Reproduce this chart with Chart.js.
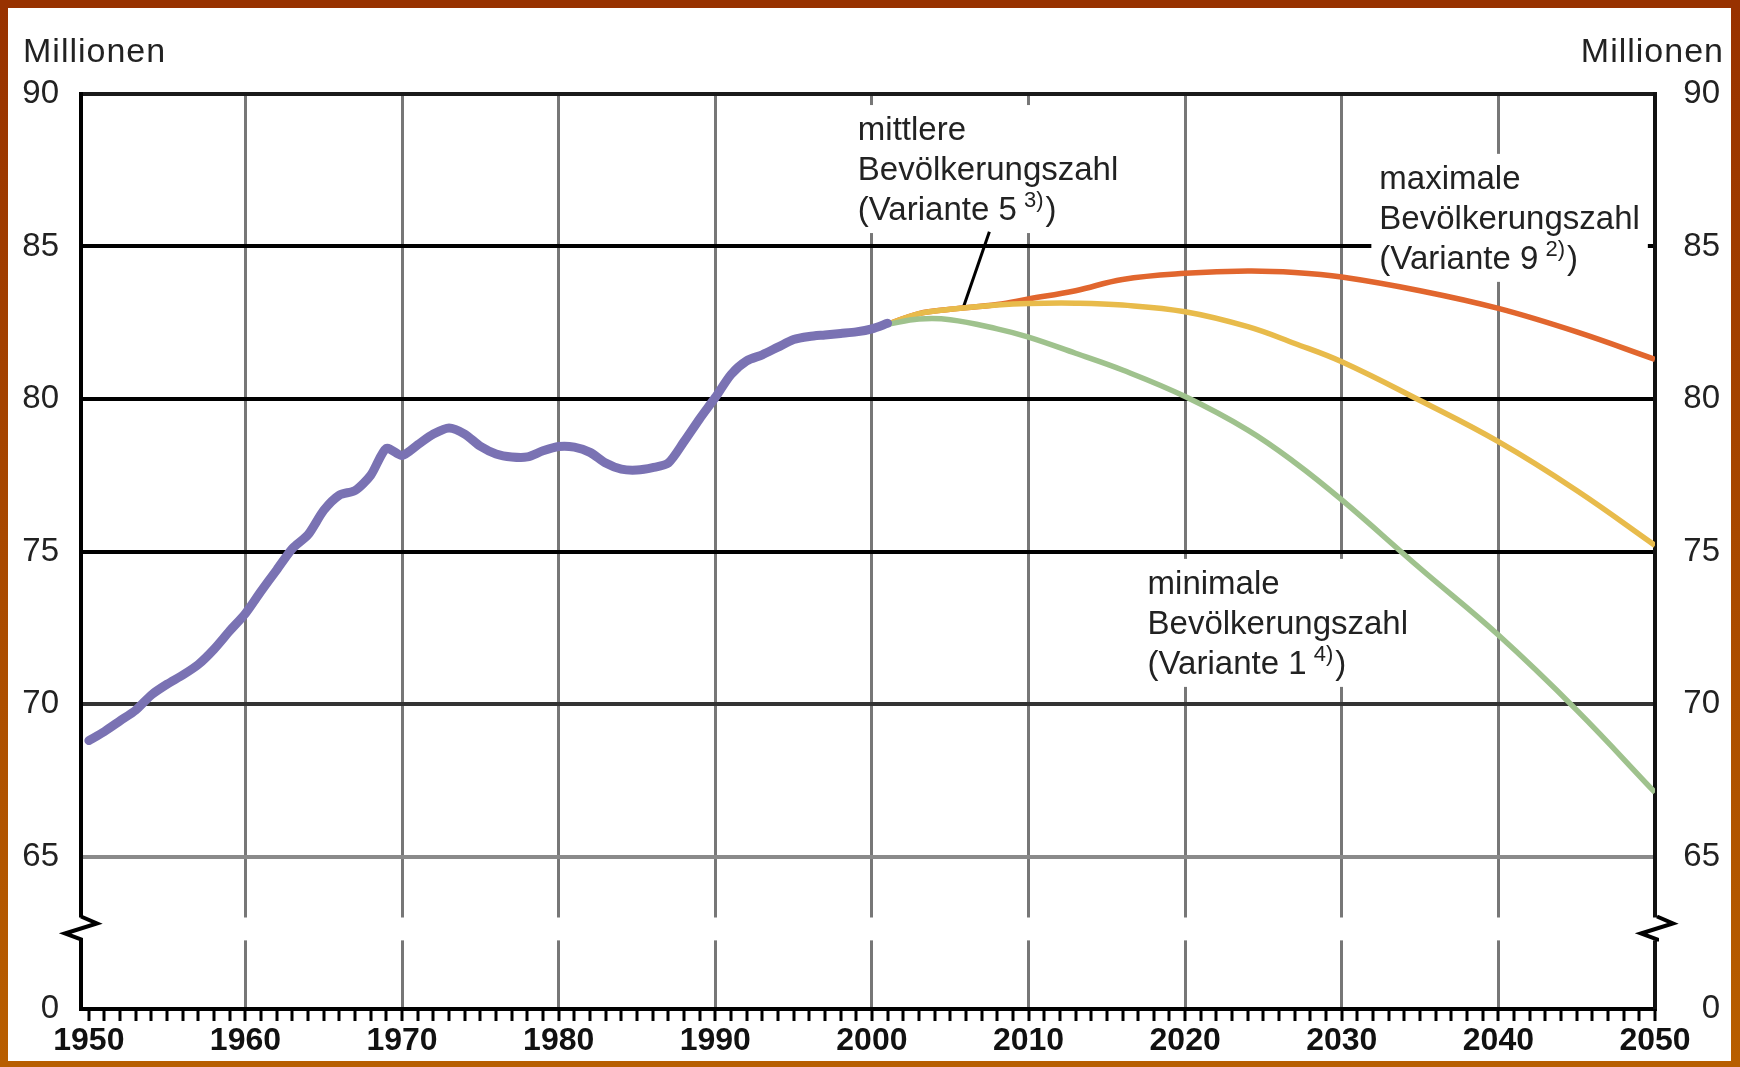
<!DOCTYPE html>
<html>
<head>
<meta charset="utf-8">
<script src="https://cdn.jsdelivr.net/npm/chart.js@4.4.0/dist/chart.umd.min.js"></script>
<style>
  html, body { margin: 0; padding: 0; background: #fff; }
  #wrap { position: relative; width: 1740px; height: 1067px; }
  #frame { position: absolute; left: 0; top: 0; width: 1740px; height: 1067px; box-sizing: border-box;
    border-style: solid; border-width: 8px 9px 6px 8px;
    border-image: linear-gradient(to bottom, #983200, #b85e00) 1; pointer-events: none; }
</style>
</head>
<body>
<div id="wrap">
  <canvas id="populationGraph" width="1740" height="1067"></canvas>
  <div id="frame"></div>
</div>
<script>
// Bevölkerung Deutschland 1950-2001 und Vorausberechnung bis 2050 (Millionen)
var histYears = [1950, 1951, 1952, 1953, 1954, 1955, 1956, 1957, 1958, 1959,
                 1960, 1961, 1962, 1963, 1964, 1965, 1966, 1967, 1968, 1969,
                 1970, 1971, 1972, 1973, 1974, 1975, 1976, 1977, 1978, 1979,
                 1980, 1981, 1982, 1983, 1984, 1985, 1986, 1987, 1988, 1989,
                 1990, 1991, 1992, 1993, 1994, 1995, 1996, 1997, 1998, 1999,
                 2000, 2001];
var histValues = [68.8, 69.1, 69.45, 69.8, 70.3, 70.65, 70.95, 71.3, 71.8, 72.4,
                  72.97, 73.7, 74.4, 75.1, 75.55, 76.35, 76.85, 77.0, 77.5, 78.38,
                  78.15, 78.5, 78.85, 79.05, 78.85, 78.45, 78.2, 78.1, 78.1, 78.3,
                  78.44, 78.42, 78.25, 77.9, 77.7, 77.67, 77.75, 77.9, 78.6, 79.35,
                  80.05, 80.8, 81.25, 81.45, 81.7, 81.95, 82.05, 82.1, 82.15, 82.2,
                  82.3, 82.48];

var projYears  = [2001, 2003, 2005, 2008, 2010, 2013, 2016, 2020, 2024, 2027, 2030, 2035, 2040, 2045, 2050];
var minValues  = [82.45, 82.62, 82.6, 82.3, 82.03, 81.5, 80.95, 80.08, 78.98, 77.92, 76.69, 74.45, 72.26, 69.8, 67.1];
var midValues  = [82.45, 82.8, 82.94, 83.08, 83.13, 83.14, 83.08, 82.86, 82.37, 81.82, 81.22, 79.95, 78.6, 77.0, 75.2];
var maxValues  = [82.45, 82.8, 82.94, 83.1, 83.28, 83.55, 83.92, 84.12, 84.2, 84.15, 84.0, 83.55, 82.97, 82.2, 81.3];

var xTickYears  = [1950, 1960, 1970, 1980, 1990, 2000, 2010, 2020, 2030, 2040, 2050];
var yTickValues = [60, 65, 70, 75, 80, 85, 90];
var yTickLabels = ['0', '65', '70', '75', '80', '85', '90'];

// Beschriftungen an den Kurven (Anker in Jahr / Millionen)
var curveLabels = [
    { lines: ['mittlere', 'Bevölkerungszahl', '(Variante 5 '], note: '3)', at: [1999.1, 88.49] },
    { lines: ['maximale', 'Bevölkerungszahl', '(Variante 9 '], note: '2)', at: [2032.4, 86.89] },
    { lines: ['minimale', 'Bevölkerungszahl', '(Variante 1 '], note: '4)', at: [2017.6, 73.61] }
];
var leaderLine = [[2007.5, 85.48], [2005.8, 82.95]];

var hLineColors = {60: 'rgba(0,0,0,0)', 65: '#8a8a8a', 70: '#333', 75: '#000', 80: '#000', 85: '#000', 90: '#1a1a1a'};
var textFont = '"Liberation Sans", Arial, sans-serif';
Chart.defaults.font.family = textFont;

function toPoints(xs, vs) {
    return xs.map(function (x, i) { return {x: x, y: vs[i]}; });
}

var chartExtras = {
    id: 'chartExtras',
    beforeDatasetsDraw: function (chart) {
        var ctx = chart.ctx, xs = chart.scales.x, ys = chart.scales.y;
        ctx.save();
        curveLabels.forEach(function (lab) {
            var left = xs.getPixelForValue(lab.at[0]);
            var base = ys.getPixelForValue(lab.at[1]);
            ctx.font = '33px ' + textFont;
            var w = 0;
            lab.lines.forEach(function (t) { w = Math.max(w, ctx.measureText(t).width); });
            var last = base + 40 * (lab.lines.length - 1);
            ctx.fillStyle = '#fff';
            ctx.fillRect(left - 8, base - 35, w + 16, last - base + 48);

            ctx.fillStyle = '#222';
            ctx.textAlign = 'left';
            ctx.textBaseline = 'alphabetic';
            lab.lines.forEach(function (t, i) { ctx.fillText(t, left, base + 40 * i); });
            var tx = left + ctx.measureText(lab.lines[lab.lines.length - 1]).width - 2;
            ctx.font = '22px ' + textFont;
            ctx.fillText(lab.note, tx, last - 13);
            tx += ctx.measureText(lab.note).width + 2;
            ctx.font = '33px ' + textFont;
            ctx.fillText(')', tx, last);
        });
        // Hinweislinie zur mittleren Variante
        ctx.strokeStyle = '#000';
        ctx.lineWidth = 3;
        ctx.beginPath();
        ctx.moveTo(xs.getPixelForValue(leaderLine[0][0]), ys.getPixelForValue(leaderLine[0][1]));
        ctx.lineTo(xs.getPixelForValue(leaderLine[1][0]), ys.getPixelForValue(leaderLine[1][1]));
        ctx.stroke();
        ctx.restore();
    },
    afterDraw: function (chart) {
        var ctx = chart.ctx, xs = chart.scales.x, ys = chart.scales.y, area = chart.chartArea;
        ctx.save();
        // kleine Jahresstriche an der x-Achse
        ctx.fillStyle = '#000';
        for (var yr = 1950; yr <= 2050; yr++) {
            var px = xs.getPixelForValue(yr);
            ctx.fillRect(Math.round(px) - 1.5, area.bottom, 3, 12);
        }
        // Achsenbruch
        var yt = ys.getPixelForValue(63), yb = ys.getPixelForValue(62.25);
        ctx.fillStyle = '#fff';
        ctx.fillRect(area.left - 20, yt, area.right - area.left + 40, yb - yt);
        ctx.strokeStyle = '#000';
        ctx.lineWidth = 4;
        ctx.lineJoin = 'miter';
        [area.left, area.right + 2].forEach(function (ax) {
            ctx.beginPath();
            ctx.moveTo(ax, yt - 1);
            ctx.lineTo(ax + 16, yt + 6);
            ctx.lineTo(ax - 16, yt + 16);
            ctx.lineTo(ax, yb - 1);
            ctx.lineTo(ax, yb + 1);
            ctx.stroke();
        });
        // Einheit
        ctx.fillStyle = '#222';
        ctx.font = '34px ' + textFont;
        ctx.letterSpacing = '1px';
        ctx.textBaseline = 'alphabetic';
        ctx.textAlign = 'left';
        ctx.fillText('Millionen', 23, area.top - 32);
        ctx.textAlign = 'right';
        ctx.fillText('Millionen', chart.width - 16, area.top - 32);
        ctx.restore();
    }
};

var populationConfig = {
    type: 'line',
    data: {
        datasets: [{
            label: 'Bevölkerung',
            data: toPoints(histYears, histValues),
            borderColor: '#7a72b3',
            borderWidth: 9,
            tension: 0.25,
            pointRadius: 0,
            borderCapStyle: 'round',
            borderJoinStyle: 'round'
        }, {
            label: 'minimale Bevölkerungszahl',
            data: toPoints(projYears, minValues),
            borderColor: '#9fc28d',
            borderWidth: 5.5,
            tension: 0.4,
            pointRadius: 0
        }, {
            label: 'mittlere Bevölkerungszahl',
            data: toPoints(projYears, midValues),
            borderColor: '#e8bb4b',
            borderWidth: 5.5,
            tension: 0.4,
            pointRadius: 0
        }, {
            label: 'maximale Bevölkerungszahl',
            data: toPoints(projYears, maxValues),
            borderColor: '#e1662e',
            borderWidth: 5.5,
            tension: 0.4,
            pointRadius: 0
        }]
    },
    options: {
        responsive: false,
        animation: false,
        devicePixelRatio: 1,
        layout: { padding: { left: 0, right: 20, top: 94, bottom: 0 } },
        plugins: {
            legend: { display: false },
            tooltip: { enabled: false }
        },
        scales: {
            x: {
                type: 'linear',
                min: 1949.5,
                max: 2050,
                afterBuildTicks: function (s) { s.ticks = xTickYears.map(function (v) { return {value: v}; }); },
                afterFit: function (s) { s.height = 58; },
                grid: {
                    drawTicks: false,
                    lineWidth: 3,
                    color: function (c) {
                        var v = c.tick && c.tick.value;
                        return (v === 1950 || v === 2050) ? 'rgba(0,0,0,0)' : '#777';
                    }
                },
                border: { color: '#000', width: 4 },
                ticks: {
                    autoSkip: false,
                    maxRotation: 0,
                    padding: 13,
                    color: '#111',
                    font: { size: 32, weight: 'bold' },
                    callback: function (v) { return String(v); }
                }
            },
            y: {
                position: 'left',
                min: 60,
                max: 90,
                afterBuildTicks: function (s) { s.ticks = yTickValues.map(function (v) { return {value: v}; }); },
                afterFit: function (s) { s.width = 81; },
                grid: {
                    drawTicks: false,
                    lineWidth: 4,
                    color: function (c) { return hLineColors[c.tick && c.tick.value] || '#000'; }
                },
                border: { color: '#000', width: 4 },
                ticks: {
                    padding: 22,
                    color: '#222',
                    font: { size: 33 },
                    callback: function (v) { return yTickLabels[yTickValues.indexOf(v)]; }
                }
            },
            y2: {
                position: 'right',
                min: 60,
                max: 90,
                afterBuildTicks: function (s) { s.ticks = yTickValues.map(function (v) { return {value: v}; }); },
                afterFit: function (s) { s.width = 65; },
                grid: { display: false, drawTicks: false },
                border: { color: '#111', width: 4 },
                ticks: {
                    crossAlign: 'far',
                    color: '#222',
                    font: { size: 33 },
                    callback: function (v) { return yTickLabels[yTickValues.indexOf(v)]; }
                }
            }
        }
    },
    plugins: [chartExtras]
};

var populationCtx = document.getElementById('populationGraph');
var populationChart = new Chart(populationCtx, populationConfig);
</script>
</body>
</html>
